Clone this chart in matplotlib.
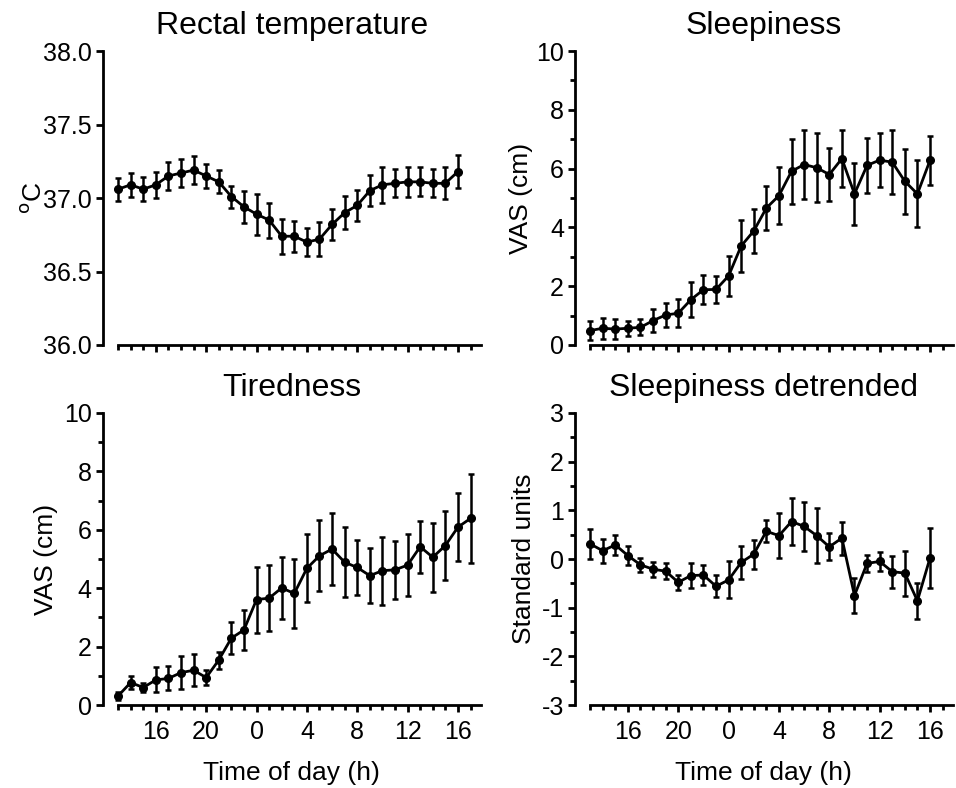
import matplotlib
matplotlib.use("Agg")
import matplotlib.pyplot as plt
import matplotlib.ticker as mt
import numpy as np

plt.rcParams["font.family"] = ["Liberation Sans", "DejaVu Sans"]

# clock hours from 13:00 on day 1 to 17:00 on day 2
hours = np.arange(13, 42)
hour_ticks = [16, 20, 24, 28, 32, 36, 40]
hour_labels = ["16", "20", "0", "4", "8", "12", "16"]

temp_mean = [37.06, 37.09, 37.06, 37.09, 37.15, 37.17, 37.19, 37.15, 37.11, 37.01,
             36.94, 36.89, 36.85, 36.74, 36.74, 36.70, 36.72, 36.82, 36.90, 36.95,
             37.05, 37.09, 37.10, 37.11, 37.11, 37.10, 37.10, 37.18]
temp_sem = [0.079, 0.081, 0.080, 0.088, 0.098, 0.096, 0.093, 0.082, 0.079, 0.075,
            0.107, 0.139, 0.119, 0.118, 0.104, 0.097, 0.115, 0.104, 0.113, 0.106,
            0.107, 0.122, 0.096, 0.101, 0.098, 0.096, 0.110, 0.113]

sleep_mean = [0.49, 0.57, 0.54, 0.57, 0.60, 0.83, 1.02, 1.08, 1.54, 1.88,
              1.89, 2.35, 3.37, 3.88, 4.66, 5.08, 5.91, 6.14, 6.03, 5.80,
              6.34, 5.14, 6.11, 6.29, 6.22, 5.57, 5.14, 6.28]
sleep_sem = [0.31, 0.36, 0.33, 0.25, 0.27, 0.39, 0.42, 0.47, 0.59, 0.49,
             0.46, 0.69, 0.89, 0.76, 0.75, 0.97, 1.10, 1.17, 1.18, 0.90,
             0.97, 1.06, 0.93, 0.93, 1.09, 1.10, 1.14, 0.82]

tired_mean = [0.31, 0.77, 0.60, 0.86, 0.91, 1.11, 1.19, 0.94, 1.54, 2.29,
              2.57, 3.61, 3.66, 4.01, 3.82, 4.68, 5.11, 5.34, 4.89, 4.71,
              4.43, 4.60, 4.63, 4.79, 5.42, 5.06, 5.46, 6.09, 6.39]
tired_sem = [0.14, 0.23, 0.17, 0.43, 0.41, 0.56, 0.55, 0.27, 0.29, 0.54,
             0.69, 1.13, 1.12, 1.07, 1.19, 1.16, 1.21, 1.24, 1.19, 0.95,
             0.94, 1.16, 0.99, 1.06, 0.89, 1.18, 1.18, 1.16, 1.51]

detr_mean = [0.31, 0.17, 0.29, 0.07, -0.12, -0.21, -0.25, -0.48, -0.34, -0.33,
             -0.56, -0.43, -0.07, 0.10, 0.57, 0.48, 0.77, 0.67, 0.48, 0.25,
             0.43, -0.75, -0.09, -0.05, -0.26, -0.29, -0.86, 0.02]
detr_sem = [0.30, 0.25, 0.21, 0.19, 0.15, 0.15, 0.17, 0.16, 0.25, 0.20,
            0.23, 0.38, 0.34, 0.30, 0.23, 0.46, 0.49, 0.50, 0.57, 0.28,
            0.34, 0.36, 0.17, 0.20, 0.33, 0.46, 0.37, 0.61]


def panel(ax, mean, sem, title, ylabel, ylim, major, minor=None, xlabels=False):
    x = hours[:len(mean)]
    ax.errorbar(x, mean, yerr=sem, color="black", lw=2, marker="o", ms=5.5,
                ecolor="black", elinewidth=1.8, capsize=2.5, capthick=1.8)
    ax.set_xlim(11.8, 41.8)
    ax.set_ylim(*ylim)
    for s in ("top", "right"):
        ax.spines[s].set_visible(False)
    for s in ("left", "bottom"):
        ax.spines[s].set_linewidth(2)
    ax.spines["bottom"].set_bounds(13, 41.8)

    ax.set_xticks(hour_ticks)
    ax.set_xticks(hours, minor=True)
    ax.set_yticks(major)
    if minor is not None:
        ax.set_yticks(minor, minor=True)
    ax.tick_params(which="major", direction="out", length=5, width=2,
                   labelsize=18, pad=3, colors="black")
    ax.tick_params(axis="x", which="major", pad=6)
    ax.tick_params(which="minor", direction="out", length=3.5, width=2)
    if xlabels:
        ax.set_xticklabels(hour_labels)
        ax.set_xlabel("Time of day (h)", fontsize=19, labelpad=12)
    else:
        ax.set_xticklabels([])
    ax.set_title(title, fontsize=23, pad=12)
    ax.set_ylabel(ylabel, fontsize=19, labelpad=4)


fig = plt.figure(figsize=(9.56, 7.88), dpi=100)
ax1 = fig.add_axes([0.1077, 0.5622, 0.395, 0.373])
ax2 = fig.add_axes([0.6015, 0.5622, 0.395, 0.373])
ax3 = fig.add_axes([0.1077, 0.1053, 0.395, 0.3706])
ax4 = fig.add_axes([0.6015, 0.1053, 0.395, 0.3706])

panel(ax1, temp_mean, temp_sem, "Rectal temperature", "$^{\\mathrm{o}}$C",
      (36, 38), np.arange(36, 38.01, 0.5))
ax1.yaxis.set_major_formatter(mt.FormatStrFormatter("%.1f"))
ax1.yaxis.set_label_coords(-0.15, 0.5)
panel(ax2, sleep_mean, sleep_sem, "Sleepiness", "VAS (cm)",
      (0, 10), np.arange(0, 11, 2), np.arange(0, 11, 1))
ax2.yaxis.set_label_coords(-0.11, 0.5)
panel(ax3, tired_mean, tired_sem, "Tiredness", "VAS (cm)",
      (0, 10), np.arange(0, 11, 2), np.arange(0, 11, 1), xlabels=True)
panel(ax4, detr_mean, detr_sem, "Sleepiness detrended", "Standard units",
      (-3, 3), np.arange(-3, 4, 1), np.arange(-3, 3.01, 0.5), xlabels=True)
# plain hyphen for negative tick labels
ax4.yaxis.set_major_formatter(mt.FuncFormatter(lambda v, p: "%d" % v))

fig.savefig("out.png", dpi=100)
